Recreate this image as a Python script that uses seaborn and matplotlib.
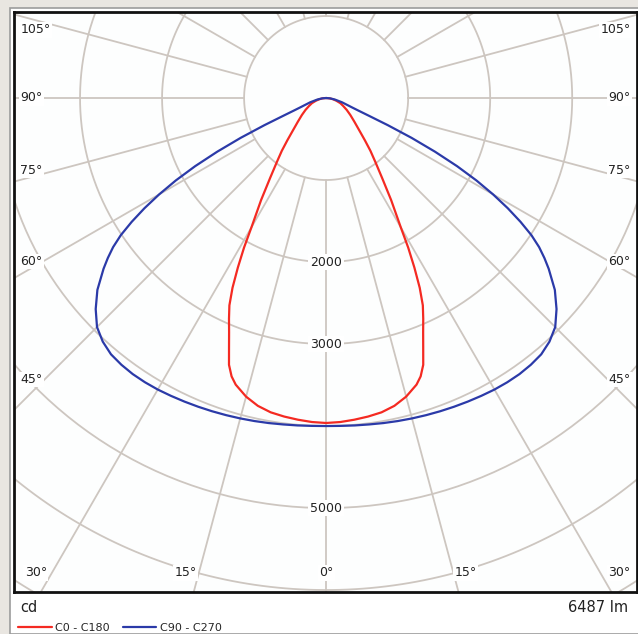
import numpy as np
import pandas as pd
import matplotlib
matplotlib.use('Agg')
import matplotlib.pyplot as plt
import seaborn as sns

red_angles = [0, 2.5, 5, 7.5, 10, 12.5, 15, 17.5, 18.75, 20, 21.25, 22.5, 23.75, 25,
              26.25, 27.5, 28.75, 30, 32.5, 35, 37.5, 40, 42.5, 45, 47.5, 50, 55, 60,
              65, 70, 75, 80, 85, 90]
c0_c180 = [3963, 3955, 3938, 3918, 3892, 3845, 3770, 3665, 3585, 3462, 3266, 3091, 2940,
           2790, 2580, 2330, 2080, 1820, 1475, 1190, 990, 840, 700, 590, 510, 450, 360,
           290, 230, 185, 130, 85, 40, 0]

blue_angles = [0, 2.5, 5, 7.5, 10, 12.5, 15, 17.5, 20, 22.5, 25, 27.5, 30, 32.5, 35,
               37.5, 40, 42.5, 45, 47.5, 50, 52.5, 53.75, 55, 56.25, 57.5, 58.75, 60,
               61.25, 62.5, 63.75, 65, 66.25, 67.5, 68.75, 70, 75, 80, 85, 90]
c90_c270 = [4000, 4002, 4008, 4015, 4025, 4035, 4045, 4055, 4065, 4075, 4085, 4095, 4105,
            4110, 4110, 4100, 4080, 4030, 3950, 3810, 3640, 3420, 3300, 3170, 3010, 2810,
            2590, 2350, 2090, 1800, 1480, 1150, 820, 560, 420, 340, 200, 110, 50, 0]

series_names = ["C0 - C180", "C90 - C270"]
series_colors = ["#f42a22", "#2b3aa8"]

ring_values = [1000, 2000, 3000, 4000, 5000, 6000, 7000]
ring_labels = [2000, 3000, 5000]
spoke_step = 15

# angle labels along the frame (text, x, y in axes fraction, alignment)
edge_labels = [
    ("105°", 0.010, 0.969, "left"), ("90°", 0.010, 0.852, "left"),
    ("75°", 0.010, 0.727, "left"), ("60°", 0.010, 0.570, "left"),
    ("45°", 0.010, 0.366, "left"), ("30°", 0.017, 0.033, "left"),
    ("105°", 0.990, 0.969, "right"), ("90°", 0.990, 0.852, "right"),
    ("75°", 0.990, 0.727, "right"), ("60°", 0.990, 0.570, "right"),
    ("45°", 0.990, 0.366, "right"), ("30°", 0.990, 0.033, "right"),
    ("15°", 0.275, 0.033, "center"), ("0°", 0.502, 0.033, "center"),
    ("15°", 0.725, 0.033, "center"),
]

rows = []
for name, ang, cd in [(series_names[0], red_angles, c0_c180),
                      (series_names[1], blue_angles, c90_c270)]:
    full_ang = [-a for a in ang[::-1]] + ang[1:]
    full_cd = cd[::-1] + cd[1:]
    for a, v in zip(full_ang, full_cd):
        t = np.radians(a)
        rows.append({"series": name, "x": v * np.sin(t), "y": -v * np.cos(t)})
df = pd.DataFrame(rows)

sns.set_theme(style="white")
plt.rcParams['font.family'] = ['DejaVu Sans']

W, H = 638, 634
fig = plt.figure(figsize=(W / 100, H / 100), dpi=100, facecolor="#e9e6e1")

# white panel behind the chart and footer
panel = plt.Rectangle((10 / W, 0), 1, 1 - 8 / H, transform=fig.transFigure,
                      facecolor="white", edgecolor="#9c9c9c", linewidth=1.2, zorder=-10)
fig.patches.append(panel)

ax = fig.add_axes([14 / W, 42 / H, 623 / W, 580 / H])
ax.set_zorder(5)
ax.set_xlim(-3805, 3790)
ax.set_ylim(-6024, 1049)
ax.set_facecolor("#fdfefe")

grid_col = "#cdc6c0"
tt = np.linspace(0, 2 * np.pi, 400)
for r in ring_values:
    ax.plot(r * np.cos(tt), r * np.sin(tt), color=grid_col, lw=1.3, zorder=1)
for a in range(-180, 181, spoke_step):
    t = np.radians(a)
    ax.plot([1000 * np.sin(t), 9000 * np.sin(t)], [-1000 * np.cos(t), -9000 * np.cos(t)],
            color=grid_col, lw=1.3, zorder=1)

sns.lineplot(data=df, x="x", y="y", hue="series", palette=series_colors,
             hue_order=series_names, sort=False, estimator=None, linewidth=1.6,
             ax=ax, zorder=3)

for v in ring_labels:
    ax.text(0, -v, str(v), ha="center", va="center", fontsize=9, color="#222222",
            bbox=dict(boxstyle="square,pad=0.15", fc="white", ec="none"), zorder=4)
for txt, x, y, ha in edge_labels:
    ax.text(x, y, txt, transform=ax.transAxes, ha=ha, va="center", fontsize=9,
            color="#222222", bbox=dict(boxstyle="square,pad=0.1", fc="white", ec="none"),
            zorder=4)

ax.set_xlabel("")
ax.set_ylabel("")
ax.set_xticks([])
ax.set_yticks([])
for s in ax.spines.values():
    s.set_color("#111111")
    s.set_linewidth(2)

sns.move_legend(ax, "lower left", bbox_to_anchor=(0.0, -0.078), ncol=2, frameon=False,
                title=None, fontsize=8, handlelength=3.0, handletextpad=0.3,
                columnspacing=1.2, borderaxespad=0)

fig.text(20 / W, 1 - 607 / H, "cd", fontsize=10.5, color="#222222", va="center")
fig.text(628 / W, 1 - 607 / H, "6487 lm", fontsize=10.5, color="#222222", va="center",
         ha="right")

fig.savefig("out.png", dpi=100, facecolor=fig.get_facecolor())
